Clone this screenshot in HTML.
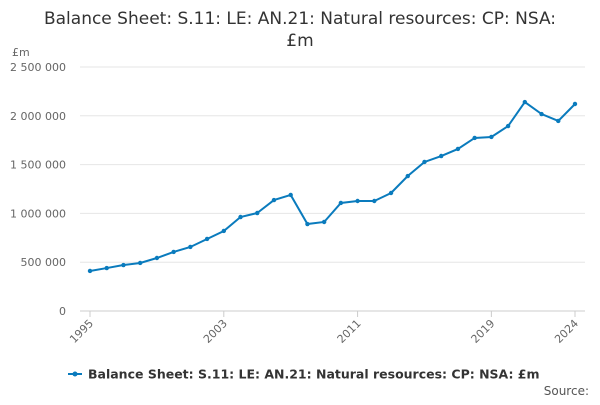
<!DOCTYPE html>
<html><head><meta charset="utf-8"><style>
body{margin:0;background:#fff;font-family:"Liberation Sans","DejaVu Sans",sans-serif}
svg text{font-family:"DejaVu Sans","Liberation Sans",sans-serif}
</style></head><body>
<svg id="c" width="600" height="400" viewBox="0 0 600 400">
<text x="300" y="24" text-anchor="middle" font-size="17" fill="#333">Balance Sheet: S.11: LE: AN.21: Natural resources: CP: NSA:</text>
<text x="300" y="46" text-anchor="middle" font-size="17" fill="#333">£m</text>
<text x="12" y="56" font-size="11" fill="#666">£m</text>
<g id="grid"></g><g id="xax"></g><g id="series"></g>
<g>
<line x1="68" y1="374" x2="82" y2="374" stroke="#0a7bbd" stroke-width="2"/>
<circle cx="75" cy="374" r="2.5" fill="#0a7bbd"/>
<text x="88" y="378.5" font-size="12.5" font-weight="bold" fill="#333">Balance Sheet: S.11: LE: AN.21: Natural resources: CP: NSA: £m</text>
</g>
<text x="589" y="395" text-anchor="end" font-size="12" fill="#555">Source:</text>
</svg>
<script>
const years=[1995,1996,1997,1998,1999,2000,2001,2002,2003,2004,2005,2006,2007,2008,2009,2010,2011,2012,2013,2014,2015,2016,2017,2018,2019,2020,2021,2022,2023,2024];
const values=[410000,440000,471000,492000,543000,605000,656000,738000,820000,963000,1004000,1137000,1189000,891000,912000,1107000,1127000,1127000,1209000,1383000,1527000,1588000,1660000,1773000,1783000,1895000,2141000,2018000,1947000,2121000];
const yTicks=[0,500000,1000000,1500000,2000000,2500000];
const yTickLabels=["0","500 000","1 000 000","1 500 000","2 000 000","2 500 000"];
const xTickYears=[1995,2003,2011,2019,2024];
const NS="http://www.w3.org/2000/svg";
const x=y=>90+(y-years[0])*(575-90)/(years[years.length-1]-years[0]);
const yS=v=>311-v*(311-67)/2500000;
function mk(t,a,p){const e=document.createElementNS(NS,t);for(const k in a)e.setAttribute(k,a[k]);p.appendChild(e);return e;}
const grid=document.getElementById('grid');
yTicks.forEach((v,i)=>{
 const l=mk('line',{x1:80,x2:585,y1:yS(v),y2:yS(v),stroke:i==0?'#ccc':'#e6e6e6'},grid);
 
 
 const t=mk('text',{x:66,y:yS(v)+4,'text-anchor':'end','font-size':11,fill:'#666'},grid);
 t.textContent=yTickLabels[i];
 
 
});
const xax=document.getElementById('xax');
xTickYears.forEach(yr=>{
 const tk=mk('line',{x1:x(yr),x2:x(yr),y1:311,y2:317,stroke:'#ccc'},xax);
 
 
 const t=mk('text',{x:x(yr)+4,y:324,'text-anchor':'end','font-size':11,fill:'#666',transform:`rotate(-45 ${x(yr)+4} 324)`},xax);
 t.textContent=yr;
 
 
});
const s=document.getElementById('series');
const p=mk('path',{d:values.map((v,i)=>(i?'L':'M')+x(years[i])+' '+yS(v)).join(''),fill:'none',stroke:'#0a7bbd','stroke-width':2},s);


values.forEach((v,i)=>{
 const c=mk('circle',{cx:x(years[i]),cy:yS(v),r:2.2,fill:'#0a7bbd'},s);
 
 
});
</script>
</body></html>
